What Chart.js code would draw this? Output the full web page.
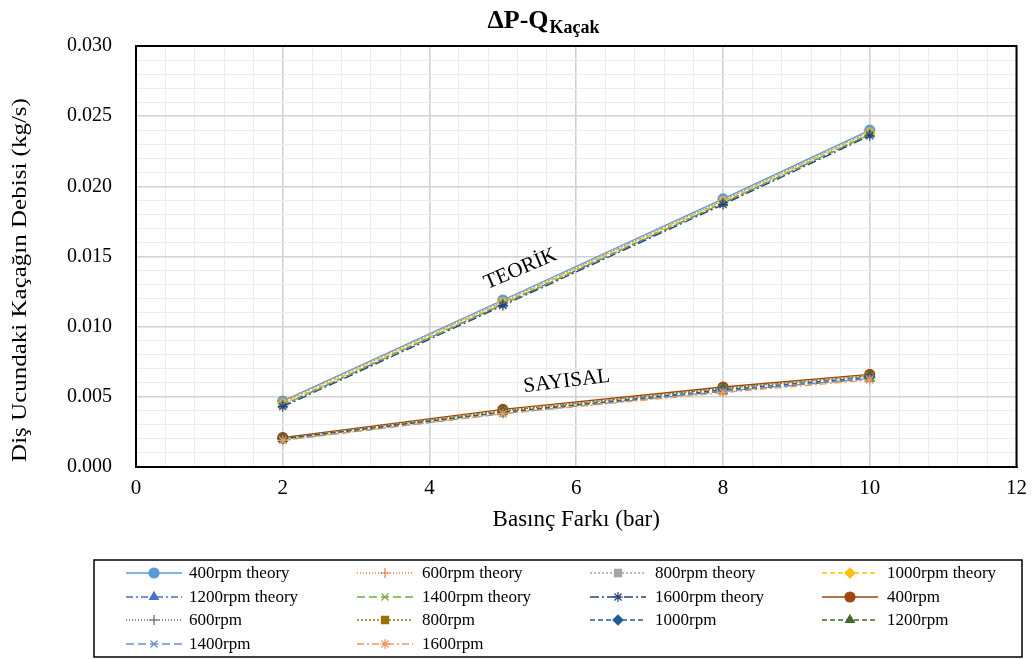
<!DOCTYPE html>
<html>
<head>
<meta charset="utf-8">
<script src="https://cdn.jsdelivr.net/npm/chart.js@4"></script>
<style>
  body { margin: 0; background: #fff; }
  #wrap { width: 1036px; height: 659px; }
</style>
</head>
<body>
<div id="wrap"><canvas id="leakChart" width="1036" height="659"></canvas></div>
<script>
const pressures = [2, 5, 8, 10];

// theoretical leakage (kg/s)
const theory400 = [0.0047, 0.0119, 0.0191, 0.0240];
const theory600 = [0.0047, 0.0118, 0.0190, 0.0239];
const theory800 = [0.0046, 0.0118, 0.0190, 0.0239];
const theory1000 = [0.0045, 0.0117, 0.0189, 0.0238];
const theory1200 = [0.0044, 0.0116, 0.0188, 0.0237];
const theory1400 = [0.0044, 0.0116, 0.0188, 0.0237];
const theory1600 = [0.0043, 0.0115, 0.0187, 0.0236];

// numerical leakage (kg/s)
const num400 = [0.0021, 0.0041, 0.0057, 0.0066];
const num600 = [0.0021, 0.0040, 0.0056, 0.0065];
const num800 = [0.0020, 0.0040, 0.0056, 0.0065];
const num1000 = [0.0020, 0.0039, 0.0055, 0.0064];
const num1200 = [0.0020, 0.0039, 0.0054, 0.0063];
const num1400 = [0.0019, 0.0038, 0.0054, 0.0063];
const num1600 = [0.0019, 0.0038, 0.0053, 0.0062];

const seriesNames = [
  "400rpm theory", "600rpm theory", "800rpm theory", "1000rpm theory",
  "1200rpm theory", "1400rpm theory", "1600rpm theory",
  "400rpm", "600rpm", "800rpm", "1000rpm", "1200rpm", "1400rpm", "1600rpm"
];
const seriesValues = [
  theory400, theory600, theory800, theory1000, theory1200, theory1400, theory1600,
  num400, num600, num800, num1000, num1200, num1400, num1600
];

const yTicks = [0, 0.005, 0.010, 0.015, 0.020, 0.025, 0.030];
const xTicks = [0, 2, 4, 6, 8, 10, 12];

// look of each series: colour, marker, dash
const styles = [
  { color: "#5B9BD5", point: "circle",   dash: [] },
  { color: "#ED7D31", point: "cross",    dash: [1, 2] },
  { color: "#A5A5A5", point: "rect",     dash: [2, 2] },
  { color: "#FFC000", point: "rectRot",  dash: [5, 3] },
  { color: "#4472C4", point: "triangle", dash: [7, 3, 2, 3] },
  { color: "#70AD47", point: "crossRot", dash: [8, 4] },
  { color: "#264478", point: "star",     dash: [9, 3, 2, 3] },
  { color: "#9E480E", point: "circle",   dash: [] },
  { color: "#636363", point: "cross",    dash: [1, 2] },
  { color: "#997300", point: "rect",     dash: [2, 2] },
  { color: "#255E91", point: "rectRot",  dash: [5, 3] },
  { color: "#43682B", point: "triangle", dash: [5, 3] },
  { color: "#698ED0", point: "crossRot", dash: [8, 4] },
  { color: "#F1975A", point: "star",     dash: [7, 3, 2, 3] }
];

const serif = "'Liberation Serif', 'Times New Roman', serif";

const datasets = seriesNames.map((name, i) => ({
  label: name,
  data: pressures.map((p, j) => ({ x: p, y: seriesValues[i][j] })),
  borderColor: styles[i].color,
  backgroundColor: styles[i].color,
  borderWidth: 1.3,
  borderDash: styles[i].dash,
  pointStyle: styles[i].point,
  pointRadius: 5,
  pointBorderWidth: 1.2,
  pointBorderColor: styles[i].color,
  pointBackgroundColor: styles[i].color,
  order: seriesNames.length - i,
  tension: 0
}));

const near = (v, list) => list.some(t => Math.abs(t - v) < 1e-9);

// title, y title, frame, curve labels and the boxed legend
const decorations = {
  id: "decorations",
  afterDraw(chart) {
    const ctx = chart.ctx;
    const area = chart.chartArea;
    const xs = chart.scales.x, ys = chart.scales.y;
    ctx.save();

    // title with subscript
    ctx.fillStyle = "#000";
    ctx.textBaseline = "alphabetic";
    ctx.font = "bold 26px " + serif;
    const main = "\u0394P-Q";
    const wMain = ctx.measureText(main).width;
    ctx.font = "bold 18px " + serif;
    const sub = "Kaçak";
    const wSub = ctx.measureText(sub).width;
    const tx = 543 - (wMain + wSub) / 2;
    ctx.font = "bold 26px " + serif;
    ctx.textAlign = "left";
    ctx.fillText(main, tx, 28);
    ctx.font = "bold 18px " + serif;
    ctx.fillText(sub, tx + wMain + 1, 33);

    // y axis title, narrow glyphs
    ctx.save();
    ctx.translate(21, 280);
    ctx.rotate(-Math.PI / 2);
    ctx.scale(1, 0.82);
    ctx.font = "25px " + serif;
    ctx.textAlign = "center";
    ctx.textBaseline = "middle";
    ctx.fillText("Diş Ucundaki Kaçağın Debisi (kg/s)", 0, 0);
    ctx.restore();

    // plot frame
    ctx.strokeStyle = "#000";
    ctx.lineWidth = 2;
    ctx.strokeRect(area.left, area.top, area.right - area.left, area.bottom - area.top);

    // curve labels
    ctx.font = "21px " + serif;
    ctx.textAlign = "center";
    ctx.textBaseline = "middle";
    ctx.save();
    ctx.translate(xs.getPixelForValue(5.24), ys.getPixelForValue(0.0141));
    ctx.rotate(-23 * Math.PI / 180);
    ctx.fillText("TEORİK", 0, 0);
    ctx.restore();
    ctx.save();
    ctx.translate(xs.getPixelForValue(5.87), ys.getPixelForValue(0.0061));
    ctx.rotate(-7 * Math.PI / 180);
    ctx.fillText("SAYISAL", 0, 0);
    ctx.restore();

    // legend box
    ctx.lineWidth = 1.5;
    ctx.strokeRect(94, 560, 928, 97);
    const colMarker = [154, 385, 618, 850];
    const colText = [189, 422, 655, 887];
    const rowY = [573, 597, 620, 644];
    ctx.font = "17px " + serif;
    ctx.textAlign = "left";
    chart.data.datasets.forEach((ds, i) => {
      const col = i % 4, row = Math.floor(i / 4);
      const mx = colMarker[col], my = rowY[row];
      ctx.save();
      ctx.strokeStyle = ds.borderColor;
      ctx.lineWidth = 1.3;
      ctx.setLineDash(ds.borderDash);
      ctx.beginPath();
      ctx.moveTo(mx - 28, my);
      ctx.lineTo(mx + 28, my);
      ctx.stroke();
      ctx.setLineDash([]);
      ctx.fillStyle = ds.backgroundColor;
      ctx.lineWidth = 1.2;
      Chart.helpers.drawPoint(ctx, { pointStyle: ds.pointStyle, radius: 5, rotation: 0, borderWidth: 1.2 }, mx, my);
      ctx.restore();
      ctx.fillStyle = "#000";
      ctx.fillText(ds.label, colText[col], my + 1);
    });
    ctx.restore();
  }
};

new Chart(document.getElementById("leakChart").getContext("2d"), {
  type: "line",
  data: { datasets },
  options: {
    responsive: false,
    animation: false,
    layout: { padding: { left: 0, top: 46, right: 16, bottom: 122 } },
    plugins: {
      legend: { display: false },
      title: { display: false },
      tooltip: { enabled: false }
    },
    scales: {
      x: {
        type: "linear",
        min: 0,
        max: 12,
        afterFit: s => { s.height = 70; },
        border: { display: true, color: "#000", width: 2 },
        grid: {
          drawTicks: false,
          color: c => near(c.tick.value, xTicks) ? "#d2d2d2" : "#ececec",
          lineWidth: c => near(c.tick.value, xTicks) ? 1.6 : 1
        },
        ticks: {
          stepSize: 0.4,
          autoSkip: false,
          maxRotation: 0,
          padding: 9,
          color: "#000",
          font: { family: serif, size: 21 },
          callback: v => near(v, xTicks) ? String(Math.round(v)) : ""
        },
        title: {
          display: true,
          text: "Basınç Farkı (bar)",
          color: "#000",
          font: { family: serif, size: 23 },
          padding: { top: 2, bottom: 3 }
        }
      },
      y: {
        min: 0,
        max: 0.03,
        afterFit: s => { s.width = 136; },
        border: { display: true, color: "#000", width: 2 },
        grid: {
          drawTicks: false,
          color: c => near(c.tick.value, yTicks) ? "#d2d2d2" : "#ececec",
          lineWidth: c => near(c.tick.value, yTicks) ? 1.6 : 1
        },
        ticks: {
          stepSize: 0.001,
          autoSkip: false,
          padding: 24,
          color: "#000",
          font: { family: serif, size: 20 },
          callback: v => near(v, yTicks) ? v.toFixed(3) : ""
        }
      }
    }
  },
  plugins: [decorations]
});
</script>
</body>
</html>
